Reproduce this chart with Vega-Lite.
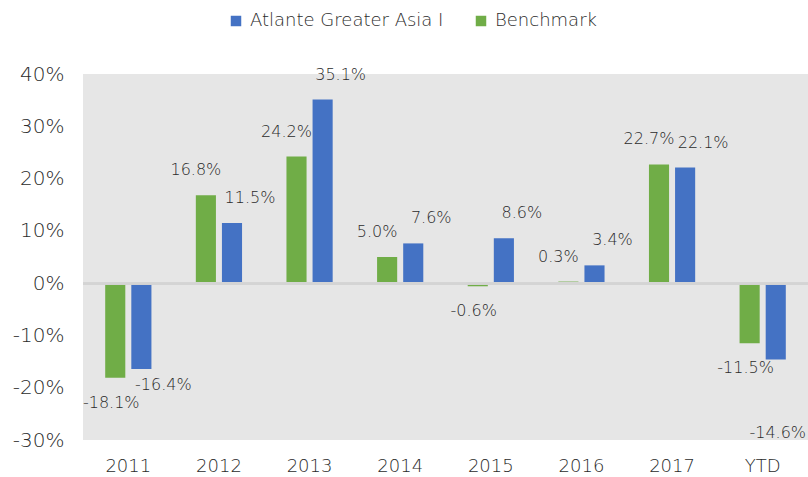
{
  "$schema": "https://vega.github.io/schema/vega-lite/v6.json",
  "width": 725,
  "height": 366,
  "autosize": {"type": "none"},
  "padding": {"left": 83, "top": 74, "right": 0, "bottom": 37},
  "background": "white",
  "config": {
    "view": {"fill": "#e6e6e6", "stroke": null},
    "font": "DejaVu Sans",
    "locale": {"number": {"decimal": ".", "thousands": ",", "grouping": [3], "currency": ["$", ""], "minus": "-"}}
  },
  "data": {
    "values": [
      {"period": "2011", "series": "Benchmark", "value": -0.181},
      {"period": "2011", "series": "Atlante Greater Asia I", "value": -0.164},
      {"period": "2012", "series": "Benchmark", "value": 0.168},
      {"period": "2012", "series": "Atlante Greater Asia I", "value": 0.115},
      {"period": "2013", "series": "Benchmark", "value": 0.242},
      {"period": "2013", "series": "Atlante Greater Asia I", "value": 0.351},
      {"period": "2014", "series": "Benchmark", "value": 0.050},
      {"period": "2014", "series": "Atlante Greater Asia I", "value": 0.076},
      {"period": "2015", "series": "Benchmark", "value": -0.006},
      {"period": "2015", "series": "Atlante Greater Asia I", "value": 0.086},
      {"period": "2016", "series": "Benchmark", "value": 0.003},
      {"period": "2016", "series": "Atlante Greater Asia I", "value": 0.034},
      {"period": "2017", "series": "Benchmark", "value": 0.227},
      {"period": "2017", "series": "Atlante Greater Asia I", "value": 0.221},
      {"period": "YTD", "series": "Benchmark", "value": -0.115},
      {"period": "YTD", "series": "Atlante Greater Asia I", "value": -0.146}
    ]
  },
  "encoding": {
    "x": {
      "field": "period",
      "type": "nominal",
      "sort": null,
      "scale": {"paddingInner": 0.49, "paddingOuter": 0.245},
      "axis": {
        "title": null,
        "labelAngle": 0,
        "ticks": false,
        "domain": false,
        "labelFontSize": 18,
        "labelFontWeight": 200,
        "labelColor": "#2b2b2b",
        "labelPadding": 17,
        "labelFont": "DejaVu Sans"
      }
    },
    "xOffset": {
      "field": "series",
      "type": "nominal",
      "scale": {"domain": ["Benchmark", "Atlante Greater Asia I"], "paddingInner": 0.23, "paddingOuter": 0}
    },
    "y": {
      "field": "value",
      "type": "quantitative",
      "scale": {"domain": [-0.3, 0.4], "nice": false},
      "axis": {
        "title": null,
        "format": ".0%",
        "values": [-0.3, -0.2, -0.1, 0, 0.1, 0.2, 0.3, 0.4],
        "grid": false,
        "ticks": false,
        "domain": false,
        "labelFontSize": 20,
        "labelFontWeight": 200,
        "labelColor": "#2b2b2b",
        "labelPadding": 19,
        "labelFont": "DejaVu Sans"
      }
    }
  },
  "layer": [
    {
      "mark": {"type": "bar"},
      "encoding": {
        "color": {
          "field": "series",
          "type": "nominal",
          "scale": {"domain": ["Atlante Greater Asia I", "Benchmark"], "range": ["#4472C4", "#70AD47"]},
          "legend": {
            "title": null,
            "orient": "none",
            "direction": "horizontal",
            "legendX": 144,
            "legendY": -62,
            "symbolType": "square",
            "symbolSize": 110,
            "symbolStrokeWidth": 0,
            "labelFontSize": 18,
            "labelFontWeight": 200,
            "labelLimit": 400,
            "labelColor": "#2b2b2b",
            "labelOffset": 5,
            "columnPadding": 28,
            "labelFont": "DejaVu Sans"
          }
        }
      }
    },
    {
      "mark": {"type": "rule", "color": "#d4d4d4", "strokeWidth": 2},
      "encoding": {"y": {"datum": 0}, "x": {"value": 0}, "x2": {"value": 725}, "xOffset": null}
    },
    {
      "transform": [{"filter": "datum.value >= 0 && datum.series == 'Benchmark'"}],
      "mark": {"type": "text", "baseline": "middle", "dy": -25, "dx": -10, "fontSize": 16, "fontWeight": 200, "color": "#2b2b2b"},
      "encoding": {"text": {"field": "value", "type": "quantitative", "format": ".1%"}}
    },
    {
      "transform": [{"filter": "datum.value >= 0 && datum.series != 'Benchmark'"}],
      "mark": {"type": "text", "baseline": "middle", "dy": -25, "dx": 18, "fontSize": 16, "fontWeight": 200, "color": "#2b2b2b"},
      "encoding": {"text": {"field": "value", "type": "quantitative", "format": ".1%"}}
    },
    {
      "transform": [{"filter": "datum.value < 0 && datum.series == 'Benchmark'"}],
      "mark": {"type": "text", "baseline": "middle", "dy": 25, "dx": -4, "fontSize": 16, "fontWeight": 200, "color": "#2b2b2b"},
      "encoding": {"text": {"field": "value", "type": "quantitative", "format": ".1%"}}
    },
    {
      "transform": [{"filter": "datum.value < 0 && datum.series != 'Benchmark' && datum.period != 'YTD'"}],
      "mark": {"type": "text", "baseline": "middle", "dy": 16, "dx": 22, "fontSize": 16, "fontWeight": 200, "color": "#2b2b2b"},
      "encoding": {"text": {"field": "value", "type": "quantitative", "format": ".1%"}}
    },
    {
      "transform": [{"filter": "datum.value < 0 && datum.series != 'Benchmark' && datum.period == 'YTD'"}],
      "mark": {"type": "text", "baseline": "middle", "dy": 74, "dx": 2, "fontSize": 16, "fontWeight": 200, "color": "#2b2b2b"},
      "encoding": {"text": {"field": "value", "type": "quantitative", "format": ".1%"}}
    }
  ]
}
